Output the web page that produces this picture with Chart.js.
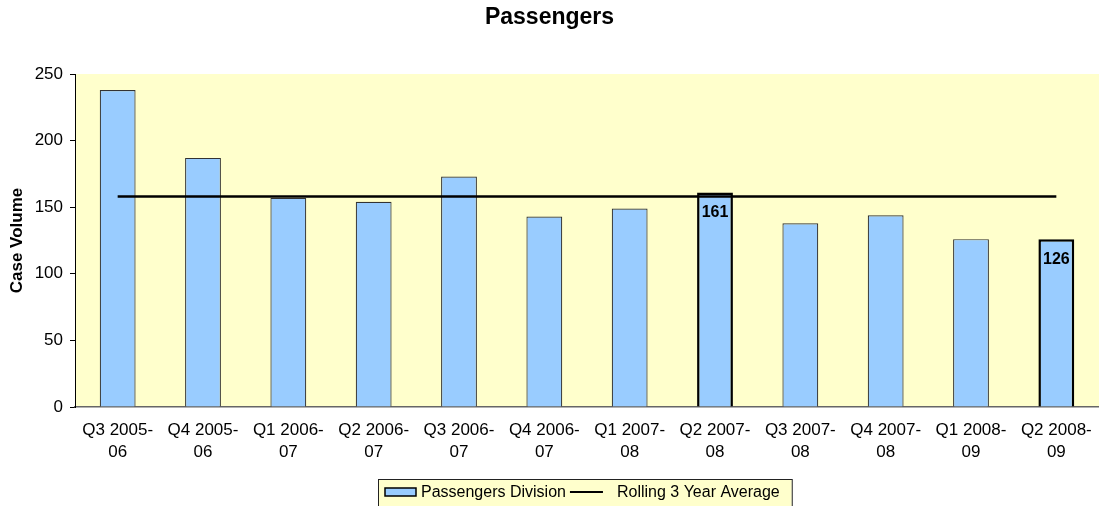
<!DOCTYPE html>
<html>
<head>
<meta charset="utf-8">
<script src="https://cdn.jsdelivr.net/npm/chart.js@4/dist/chart.umd.min.js"></script>
<style>
  html, body { margin: 0; padding: 0; background: #ffffff; }
  #wrap { width: 1099px; height: 506px; position: relative; }
</style>
</head>
<body>
<div id="wrap"><canvas id="c" width="1099" height="506"></canvas></div>
<script>
// ---- data ----
const categories = [
  ['Q3 2005-', '06'], ['Q4 2005-', '06'], ['Q1 2006-', '07'], ['Q2 2006-', '07'],
  ['Q3 2006-', '07'], ['Q4 2006-', '07'], ['Q1 2007-', '08'], ['Q2 2007-', '08'],
  ['Q3 2007-', '08'], ['Q4 2007-', '08'], ['Q1 2008-', '09'], ['Q2 2008-', '09']
];
const caseVolume = [238, 187, 157, 154, 173, 143, 149, 161, 138, 144, 126, 126];
const rollingAverage = [158, 158, 158, 158, 158, 158, 158, 158, 158, 158, 158, 158];
const highlighted = [7, 11];
const yTicks = [0, 50, 100, 150, 200, 250];
const chartTitle = 'Passengers';
const yAxisTitle = 'Case Volume';
const seriesNames = ['Passengers Division', 'Rolling 3 Year Average'];

const FONT = "'Liberation Sans', Arial, Helvetica, sans-serif";

const barBorderWidths = caseVolume.map((v, i) => highlighted.includes(i) ? 2.5 : 1.2);
const barBorderColors = caseVolume.map((v, i) => highlighted.includes(i) ? '#000000' : '#333333');

const bgPlugin = {
  id: 'plotBg',
  beforeDraw(chart) {
    const a = chart.chartArea, ctx = chart.ctx;
    ctx.save();
    ctx.fillStyle = '#FFFFCC';
    ctx.fillRect(a.left, a.top, a.right - a.left, a.bottom - a.top);
    ctx.restore();
  }
};

const labelPlugin = {
  id: 'barLabels',
  afterDatasetsDraw(chart) {
    const ctx = chart.ctx;
    const meta = chart.getDatasetMeta(1);
    ctx.save();
    ctx.font = 'bold 16px ' + FONT;
    ctx.fillStyle = '#000000';
    ctx.textAlign = 'center';
    ctx.textBaseline = 'middle';
    highlighted.forEach(i => {
      const el = meta.data[i];
      ctx.fillText(String(caseVolume[i]), el.x, el.y + 20);
    });
    ctx.restore();
  }
};

const legendPlugin = {
  id: 'customLegend',
  afterDraw(chart) {
    const ctx = chart.ctx;
    ctx.save();
    ctx.font = '16px ' + FONT;
    const w1 = ctx.measureText(seriesNames[0]).width;
    const w2 = ctx.measureText(seriesNames[1]).width;
    const boxL = 378, boxT = 479.5;
    const cy = 492;
    let x = 385;
    const total = (x - boxL) + 31 + 5 + w1 + 4 + 33 + 14 + w2 + 12;
    ctx.fillStyle = '#FFFFCC';
    ctx.fillRect(boxL, boxT, total, 40);
    ctx.strokeStyle = '#222222';
    ctx.lineWidth = 1;
    ctx.strokeRect(boxL + 0.5, boxT, total, 40);
    // bar swatch
    ctx.fillStyle = '#99CCFF';
    ctx.fillRect(x, 488, 31, 8);
    ctx.strokeStyle = '#000000';
    ctx.lineWidth = 1.5;
    ctx.strokeRect(x, 488, 31, 8);
    x += 31 + 5;
    ctx.fillStyle = '#000000';
    ctx.textAlign = 'left';
    ctx.textBaseline = 'middle';
    ctx.fillText(seriesNames[0], x, cy + 1);
    x += w1 + 4;
    ctx.beginPath();
    ctx.moveTo(x, cy);
    ctx.lineTo(x + 33, cy);
    ctx.lineWidth = 2;
    ctx.stroke();
    x += 33 + 14;
    ctx.fillText(seriesNames[1], x, cy + 1);
    ctx.restore();
  }
};

new Chart(document.getElementById('c'), {
  data: {
    labels: categories,
    datasets: [
      {
        type: 'line',
        label: seriesNames[1],
        data: rollingAverage,
        borderColor: '#000000',
        borderWidth: 2.5,
        pointRadius: 0,
        fill: false,
        order: 0
      },
      {
        type: 'bar',
        label: seriesNames[0],
        data: caseVolume,
        backgroundColor: '#99CCFF',
        borderColor: barBorderColors,
        borderWidth: barBorderWidths,
        categoryPercentage: 1.0,
        barPercentage: 0.42,
        order: 1
      }
    ]
  },
  options: {
    responsive: false,
    animation: false,
    devicePixelRatio: 1,
    layout: { padding: { left: 0, right: 0, top: 0, bottom: 42 } },
    plugins: {
      legend: { display: false },
      tooltip: { enabled: false },
      title: {
        display: true,
        text: chartTitle,
        color: '#000000',
        font: { family: FONT, size: 23, weight: 'bold', lineHeight: 1.2 },
        padding: { top: 4, bottom: 42.4 }
      }
    },
    scales: {
      x: {
        offset: true,
        grid: { display: true, drawOnChartArea: false, drawTicks: false },
        border: { display: true, color: '#666666', width: 1.5 },
        ticks: {
          color: '#000000',
          font: { family: FONT, size: 17, lineHeight: 1.32 },
          padding: 12,
          maxRotation: 0,
          autoSkip: false
        },
        afterFit(scale) {
          scale.height = 57;
          scale.paddingLeft = 0;
          scale.paddingRight = 0;
        }
      },
      y: {
        min: 0,
        max: 250,
        afterBuildTicks(scale) { scale.ticks = yTicks.map(v => ({ value: v })); },
        grid: { display: true, drawOnChartArea: false, drawTicks: true, tickLength: 5, color: '#000000' },
        border: { display: true, color: '#000000', width: 1 },
        ticks: {
          color: '#000000',
          font: { family: FONT, size: 17 },
          padding: 7
        },
        title: {
          display: true,
          text: yAxisTitle,
          color: '#000000',
          font: { family: FONT, size: 17, weight: 'bold', lineHeight: 1.2 },
          padding: { top: 7, bottom: 0 }
        },
        afterFit(scale) {
          scale.width = 75;
          scale.paddingTop = 0;
          scale.paddingBottom = 0;
        }
      }
    }
  },
  plugins: [bgPlugin, labelPlugin, legendPlugin]
});
</script>
</body>
</html>
